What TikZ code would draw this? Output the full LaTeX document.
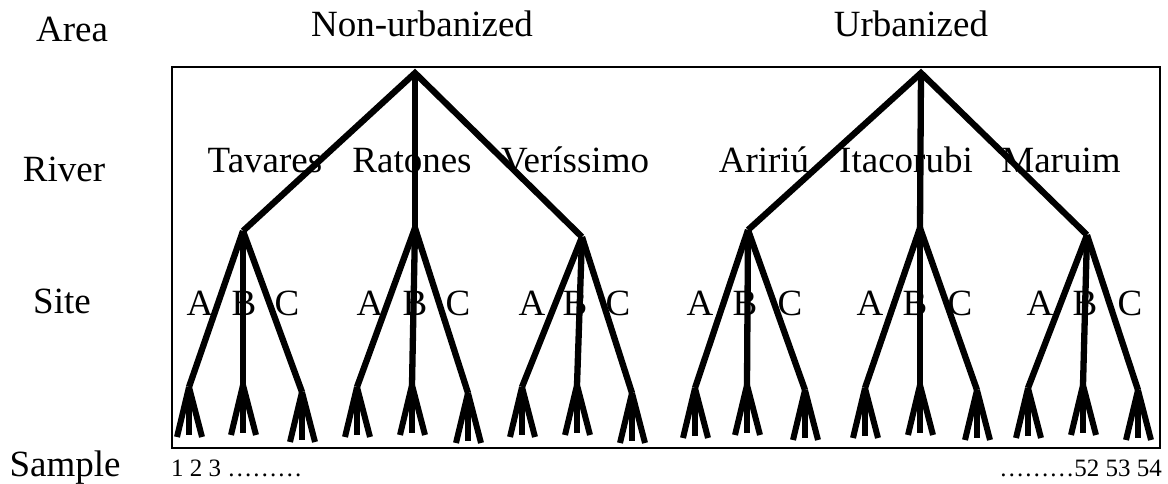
\documentclass[tikz,border=0pt]{standalone}
\usepackage{fontspec}
\setmainfont{Liberation Serif}
\begin{document}
\begin{tikzpicture}[x=1pt,y=-1pt,
  lbl/.style={anchor=base,inner sep=0pt,font=\fontsize{37}{44}\selectfont},
  num/.style={inner sep=0pt,font=\fontsize{25}{30}\selectfont},
  branch/.style={line width=6.3pt,line join=miter},
  leg/.style={line width=6pt},
  frame/.style={line width=1.3pt}]
\useasboundingbox (0,0) rectangle (1168,484);
\draw[frame] (172,67) rectangle (1160,448);

% level labels
\node[lbl] (lArea)   at (72,42)  {Area};
\node[lbl] (lRiver)  at (64,182) {River};
\node[lbl] (lSite)   at (62,313) {Site};
\node[lbl] (lSample) at (65,476) {Sample};

% area labels
\node[lbl] (aNon) at (422,37) {Non-urbanized};
\node[lbl] (aUrb) at (911,37) {Urbanized};

% roots
\coordinate (r1) at (415,73);
\coordinate (r2) at (921,73);

% river nodes
\coordinate (v1) at (243,231);
\coordinate (v2) at (415,228);
\coordinate (v3) at (582,237);
\coordinate (v4) at (748,230);
\coordinate (v5) at (920,228);
\coordinate (v6) at (1087,235);

% river labels
\node[lbl] (nTav) at (265,172) {Tavares};
\node[lbl] (nRat) at (412,172) {Ratones};
\node[lbl] (nVer) at (575,172) {Veríssimo};
\node[lbl] (nAri) at (764,172) {Aririú};
\node[lbl] (nIta) at (906,172) {Itacorubi};
\node[lbl] (nMar) at (1061,172) {Maruim};

% area -> river
\draw[branch] (v1) -- (r1) -- (v3);
\draw[branch] (r1) -- (v2);
\draw[branch] (v4) -- (r2) -- (v6);
\draw[branch] (r2) -- (v5);

% site (fan tops)
\foreach \i/\x/\y in {1/189/387,2/243/385,3/302/392,
                      4/357/387,5/412/385,6/468/393,
                      7/522/387,8/577/385,9/632/393,
                      10/695/388,11/747/385,12/805/390,
                      13/865/388,14/920/385,15/977/390,
                      16/1028/388,17/1083/385,18/1138/390}{
  \coordinate (f\i) at (\x,\y);
  \path (f\i) ++(-12,50) coordinate (f\i a)
        (f\i) ++(0,48)   coordinate (f\i b)
        (f\i) ++(13,50)  coordinate (f\i c);
  \draw[leg] (f\i) -- (f\i a);
  \draw[leg] (f\i) -- (f\i b);
  \draw[leg] (f\i) -- (f\i c);
}

% river -> site
\foreach \v/\a/\b/\c in {1/1/2/3,2/4/5/6,3/7/8/9,4/10/11/12,5/13/14/15,6/16/17/18}{
  \draw[branch] (v\v) -- (f\a);
  \draw[branch] (v\v) -- (f\b);
  \draw[branch] (v\v) -- (f\c);
}

% site labels
\foreach \k/\xa/\xb/\xc in {1/200/244/287,2/370/415/458,3/532/575/618,
                           4/700/745/790,5/870/915/960,6/1040/1085/1130}{
  \node[lbl] (sA\k) at (\xa,315) {A};
  \node[lbl] (sB\k) at (\xb,315) {B};
  \node[lbl] (sC\k) at (\xc,315) {C};
}

% sample numbers
\node[num,anchor=base west] (n1) at (171,476) {1 2 3 ………};
\node[num,anchor=base east] (n2) at (1162,476) {………52 53 54};
\end{tikzpicture}
\end{document}
